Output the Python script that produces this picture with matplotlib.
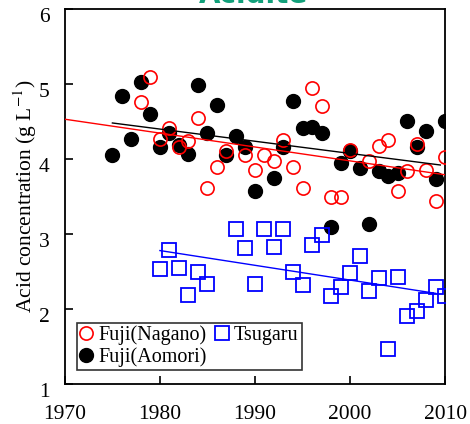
import matplotlib
matplotlib.use("Agg")
import matplotlib.pyplot as plt
import matplotlib.transforms as mtransforms

plt.rcParams['font.family'] = ['Liberation Serif', 'DejaVu Serif']
plt.rcParams['mathtext.fontset'] = 'stix'

# Fuji (Nagano) - red open circles
nagano_years = [1978, 1979, 1980, 1981, 1982, 1983, 1984, 1985, 1986, 1987, 1989,
                1990, 1991, 1992, 1993, 1994, 1995, 1996, 1997, 1998, 1999, 2000,
                2002, 2003, 2004, 2005, 2006, 2007, 2008, 2009, 2010]
nagano_vals = [4.76, 5.09, 4.27, 4.41, 4.16, 4.24, 4.55, 3.62, 3.89, 4.11, 4.05,
               3.85, 4.05, 3.98, 4.25, 3.89, 3.62, 4.94, 4.70, 3.50, 3.50, 4.12,
               3.97, 4.17, 4.25, 3.58, 3.84, 4.20, 3.85, 3.44, 4.02]

# Fuji (Aomori) - black filled circles
aomori_years = [1975, 1976, 1977, 1978, 1979, 1980, 1981, 1982, 1983, 1984, 1985,
                1986, 1987, 1988, 1989, 1990, 1992, 1993, 1994, 1995, 1996, 1997,
                1998, 1999, 2000, 2001, 2002, 2003, 2004, 2005, 2006, 2007, 2008,
                2009, 2010]
aomori_vals = [4.05, 4.84, 4.27, 5.02, 4.60, 4.16, 4.34, 4.18, 4.06, 4.99, 4.34,
               4.72, 4.05, 4.31, 4.16, 3.57, 3.75, 4.16, 4.77, 4.41, 4.43, 4.34,
               3.10, 3.95, 4.11, 3.88, 3.13, 3.84, 3.77, 3.82, 4.51, 4.16, 4.37,
               3.73, 4.51]

# Tsugaru - blue open squares
tsugaru_years = [1980, 1981, 1982, 1983, 1984, 1985, 1988, 1989, 1990, 1991, 1992,
                 1993, 1994, 1995, 1996, 1997, 1998, 1999, 2000, 2001, 2002, 2003,
                 2004, 2005, 2006, 2007, 2008, 2009, 2010]
tsugaru_vals = [2.53, 2.79, 2.55, 2.19, 2.49, 2.33, 3.07, 2.82, 2.33, 3.07, 2.83,
                3.07, 2.49, 2.32, 2.86, 2.99, 2.17, 2.29, 2.48, 2.71, 2.24, 2.41,
                1.47, 2.43, 1.91, 1.98, 2.12, 2.30, 2.17]

# trend lines (end points)
nagano_trend_x = [1970, 2010]
nagano_trend_y = [4.53, 3.79]
aomori_trend_x = [1975, 2009.5]
aomori_trend_y = [4.48, 3.92]
tsugaru_trend_x = [1980, 2009]
tsugaru_trend_y = [2.78, 2.21]

fig = plt.figure(figsize=(4.70, 4.24), dpi=100)
ax = fig.add_axes([0.138, 0.094, 0.809, 0.885])

ax.plot(nagano_trend_x, nagano_trend_y, color='red', lw=1.0, zorder=4)
ax.plot(aomori_trend_x, aomori_trend_y, color='black', lw=1.0, zorder=4)
ax.plot(tsugaru_trend_x, tsugaru_trend_y, color='blue', lw=1.0, zorder=4)

h_aom, = ax.plot(aomori_years, aomori_vals, 'o', color='black', ms=10,
                 mec='black', zorder=2, label='Fuji(Aomori)')
h_nag, = ax.plot(nagano_years, nagano_vals, 'o', mfc='none', mec='red', mew=1.2,
                 ms=9.5, zorder=3, label='Fuji(Nagano)')
h_tsu, = ax.plot(tsugaru_years, tsugaru_vals, 's', mfc='none', mec='blue', mew=1.3,
                 ms=10, zorder=3, label='Tsugaru')

ax.set_xlim(1970, 2010)
ax.set_ylim(1, 6)
ax.set_xticks([1970, 1980, 1990, 2000, 2010])
ax.set_yticks([1, 2, 3, 4, 5, 6])
ax.tick_params(direction='in', length=6, width=1.2, labelsize=15.5)
ax.tick_params(axis='x', pad=15)
ax.tick_params(axis='y', pad=11)
# y tick labels sit a little below their ticks in the original
shift = mtransforms.ScaledTranslation(0, -6 / 100, fig.dpi_scale_trans)
for lab in ax.get_yticklabels():
    lab.set_transform(lab.get_transform() + shift)
for s in ax.spines.values():
    s.set_linewidth(1.3)
ax.set_ylabel('Acid concentration (g L$^{-1}$)', fontsize=15.5, labelpad=0)

leg = ax.legend(handles=[h_nag, h_aom, h_tsu], ncol=2, loc='lower left',
                bbox_to_anchor=(0.033, 0.037), fontsize=14.5, frameon=True,
                fancybox=False, edgecolor='black', handlelength=0.6,
                handletextpad=0.3, columnspacing=0.45, borderpad=0.15,
                labelspacing=0.1, borderaxespad=0)
leg.get_frame().set_linewidth(1.2)

# partially visible heading at the very top
fig.text(0.54, 0.9935, 'Acidité', color='#12a07a', fontsize=20, fontweight='bold',
         family='DejaVu Sans', ha='center', va='baseline')

fig.savefig('out.png', dpi=100)
